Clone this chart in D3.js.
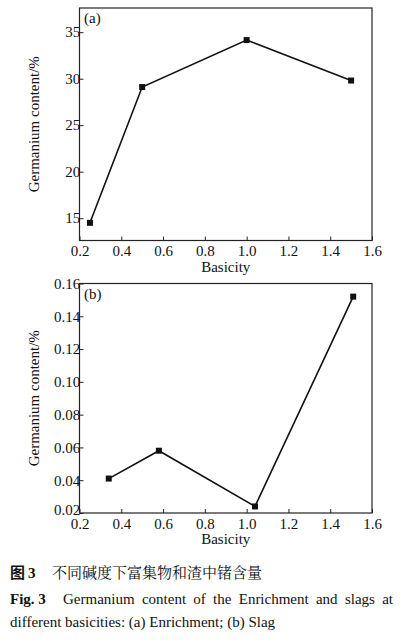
<!DOCTYPE html>
<html>
<head>
<meta charset="utf-8">
<script src="https://cdn.jsdelivr.net/npm/d3@7"></script>
<style>
  body { margin: 0; background: #fff; }
</style>
</head>
<body>
<div id="chart"></div>
<script>
// panel (a): enrichment
const basicityA = [0.25, 0.5, 1.0, 1.5];
const contentA = [14.5, 29.1, 34.15, 29.8];
const yTicksA = [15, 20, 25, 30, 35];

// panel (b): slag
const basicityB = [0.34, 0.58, 1.04, 1.51];
const contentB = [0.041, 0.058, 0.024, 0.152];
const yTicksB = [0.02, 0.04, 0.06, 0.08, 0.10, 0.12, 0.14, 0.16];

const xTicks = [0.2, 0.4, 0.6, 0.8, 1.0, 1.2, 1.4, 1.6];

const SERIF = '"Liberation Serif"';
const CJK = '"Noto Serif CJK SC"';
const CJK_BOLD = '"Noto Sans CJK SC"';

const W = 403, H = 641;
const svg = d3.select("#chart").append("svg")
    .attr("width", W)
    .attr("height", H);

function label(sel, size, fam) {
    return sel.attr("font-size", size)
        .attr("fill", "#111")
        .style("font-family", fam || SERIF);
}

// draw one panel
function drawPanel(opts) {
    const x = d3.scaleLinear().domain([0.2, 1.6]).range([79.5, 372]);
    const y = d3.scaleLinear().domain(opts.yDomain).range([opts.bottom, opts.top]);
    const g = svg.append("g");

    // frame
    g.append("rect")
        .attr("x", x.range()[0]).attr("y", opts.top)
        .attr("width", x.range()[1] - x.range()[0])
        .attr("height", opts.bottom - opts.top)
        .attr("fill", "none")
        .attr("stroke", "#222")
        .attr("stroke-width", 1.2);

    // axes with inward ticks
    const xAxis = g.append("g")
        .attr("transform", `translate(0,${opts.bottom})`)
        .call(d3.axisBottom(x).tickValues(xTicks).tickSize(-4).tickPadding(5).tickFormat(d3.format(".1f")));
    const yAxis = g.append("g")
        .attr("transform", `translate(${x.range()[0]},0)`)
        .call(d3.axisLeft(y).tickValues(opts.yTicks).tickSize(-4).tickPadding(3).tickFormat(opts.fmt));
    [xAxis, yAxis].forEach(a => {
        a.select(".domain").remove();
        a.selectAll("line").attr("stroke", "#222");
        label(a.selectAll("text"), 15);
    });
    yAxis.selectAll("text").attr("dx", "0.25em");
    // lowest label sits a little raised, clear of the x labels
    yAxis.selectAll(".tick text").filter(d => d === opts.yTicks[0] && opts.raiseFirst)
        .attr("dy", "0.1em");

    // axis titles
    label(g.append("text"), 15)
        .attr("x", (x.range()[0] + x.range()[1]) / 2)
        .attr("y", opts.bottom + 31)
        .attr("text-anchor", "middle")
        .text("Basicity");
    label(g.append("text"), 15)
        .attr("transform", `translate(39,${(opts.top + opts.bottom) / 2}) rotate(-90)`)
        .attr("text-anchor", "middle")
        .text("Germanium content/%");

    // panel letter
    label(g.append("text"), 15)
        .attr("x", 84)
        .attr("y", opts.top + 15)
        .text(opts.label);

    // line and markers
    const pts = opts.xs.map((d, i) => [d, opts.ys[i]]);
    g.append("path")
        .datum(pts)
        .attr("fill", "none")
        .attr("stroke", "#111")
        .attr("stroke-width", 1.6)
        .attr("d", d3.line().x(d => x(d[0])).y(d => y(d[1])));
    g.selectAll("rect.pt")
        .data(pts)
        .enter().append("rect")
        .attr("class", "pt")
        .attr("x", d => x(d[0]) - 3)
        .attr("y", d => y(d[1]) - 3)
        .attr("width", 6)
        .attr("height", 6)
        .attr("fill", "#111");
}

drawPanel({top: 8, bottom: 240.5, yDomain: [12.6, 37.6], yTicks: yTicksA,
    fmt: d3.format("d"), xs: basicityA, ys: contentA, label: "(a)"});
drawPanel({top: 283.5, bottom: 513, yDomain: [0.02, 0.16], yTicks: yTicksB,
    fmt: d3.format(".2f"), xs: basicityB, ys: contentB, label: "(b)", raiseFirst: true});

// caption
label(svg.append("text"), 15, CJK_BOLD).attr("x", 10).attr("y", 578)
    .attr("font-weight", "bold").text("图");
label(svg.append("text"), 15).attr("x", 28).attr("y", 578)
    .attr("font-weight", "bold").text("3");
label(svg.append("text"), 15, CJK).attr("x", 52).attr("y", 578)
    .text("不同碱度下富集物和渣中锗含量");

label(svg.append("text"), 15).attr("x", 10).attr("y", 604)
    .attr("font-weight", "bold").text("Fig. 3");
const line2 = label(svg.append("text"), 15).attr("x", 63).attr("y", 604)
    .text("Germanium content of the Enrichment and slags at");
// justify to right margin
const gaps = line2.text().split(" ").length - 1;
const extra = (393 - 63 - line2.node().getComputedTextLength()) / gaps;
line2.attr("word-spacing", extra);

label(svg.append("text"), 15).attr("x", 10).attr("y", 627)
    .text("different basicities: (a) Enrichment; (b) Slag");
</script>
</body>
</html>
